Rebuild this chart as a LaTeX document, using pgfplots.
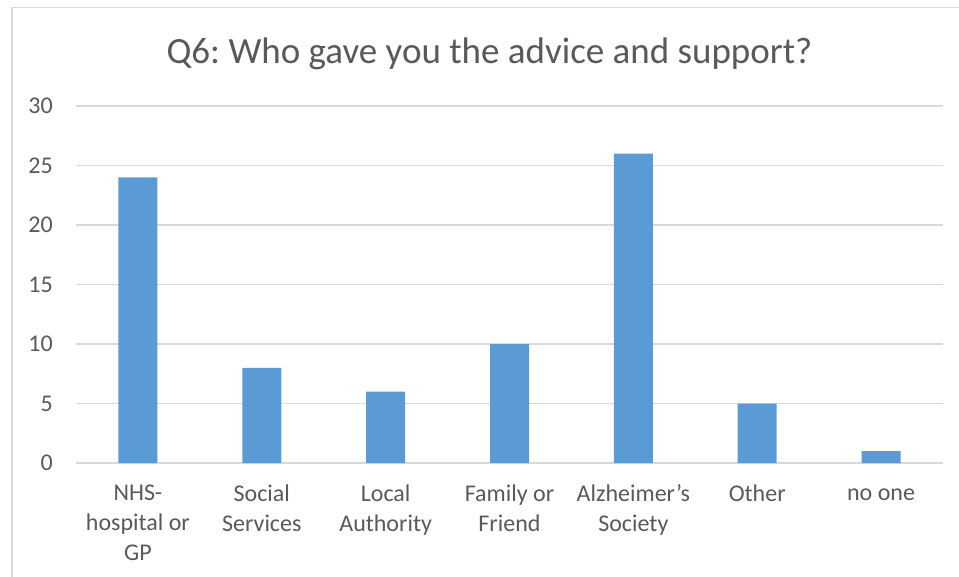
\documentclass[border=0pt]{standalone}
\usepackage{pgfplots}
\pgfplotsset{compat=1.18}
\usepackage{fontspec}
\setmainfont{Carlito}
\frenchspacing
\definecolor{barblue}{HTML}{5B9BD5}
\definecolor{gridgray}{HTML}{D9D9D9}
\definecolor{txtgray}{HTML}{595959}
\begin{document}
\begin{tikzpicture}[x=1pt,y=1pt]
\useasboundingbox (0,0) rectangle (959,576);
\draw[gridgray, line width=1.5pt] (12,-10) -- (12,568.5) -- (975,568.5);
\node[anchor=base, text=txtgray, inner sep=0pt, font=\fontsize{37}{44}\selectfont] at (489.5,512.5) {Q6:\ Who gave you the advice and support?};
\begin{axis}[
  at={(76pt,113pt)}, anchor=south west,
  scale only axis, width=867pt, height=357pt,
  xmin=-0.5, xmax=6.5, ymin=0, ymax=30,
  ytick={0,5,10,15,20,25,30},
  xtick={0,1,2,3,4,5,6},
  xticklabels={{\vphantom{N}NHS-\\hospital or\\GP},{\vphantom{N}Social\\Services},{\vphantom{N}Local\\Authority},{\vphantom{N}Family or\\Friend},{\vphantom{N}Alzheimer’s\\Society},{\vphantom{N}Other},{\vphantom{N}no one}},
  axis x line*=bottom, axis y line*=left,
  x axis line style={draw=gridgray, line width=1.5pt, -},
  y axis line style={draw=none},
  major tick length=0pt,
  ymajorgrids, grid style={draw=gridgray, line width=1.5pt},
  /pgf/number format/assume math mode=true,
  yticklabel style={font=\fontsize{24}{28}\selectfont, text=txtgray, anchor=east, inner sep=0pt, xshift=-23pt},
  xticklabel style={font=\fontsize{24}{30}\selectfont, text=txtgray, align=center, anchor=north, inner sep=0pt, yshift=-21.5pt},
  ybar, bar width=39pt,
]
\addplot[fill=barblue, draw=none] coordinates {(0,24) (1,8) (2,6) (3,10) (4,26) (5,5) (6,1)};
\end{axis}
\end{tikzpicture}
\end{document}
